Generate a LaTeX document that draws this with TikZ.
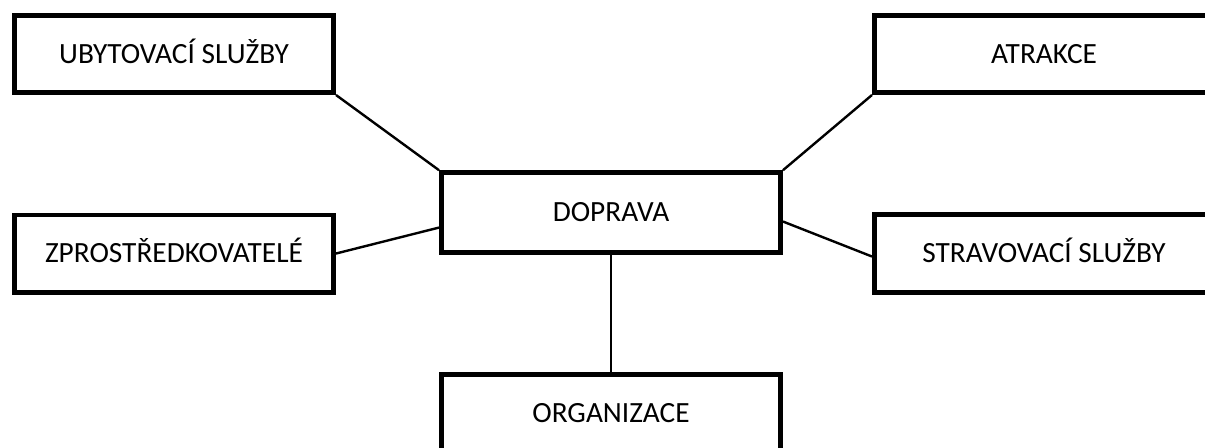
\documentclass[tikz,border=0pt]{standalone}
\usepackage{fontspec}
\setmainfont{Carlito}
\usetikzlibrary{positioning}

\begin{document}
\begin{tikzpicture}[node distance=327.75pt]
\tikzstyle{sideBox} = [rectangle, minimum width=239.5pt, minimum height=58pt, text centered, text height=14.2pt, text depth=0pt, draw=black, line width=3.5pt, font=\fontsize{22}{26}\selectfont]
\tikzstyle{wideBox} = [sideBox, minimum width=254.5pt, minimum height=60pt]
\tikzstyle{link} = [-, line width=1.8pt, black]

\useasboundingbox (-458.25pt,159.4pt) rectangle (445.5pt,-176.6pt);

\node (doprava) [wideBox] {DOPRAVA};
\node (ubytovani) [sideBox, left of=doprava, yshift=118.9pt] {UBYTOVACÍ SLUŽBY};
\node (zprostr) [sideBox, left of=doprava, yshift=-30.75pt] {ZPROSTŘEDKOVATELÉ};
\node (atrakce) [wideBox, minimum height=58pt, right of=doprava, xshift=-3pt, yshift=118.9pt] {ATRAKCE};
\node (stravovani) [wideBox, minimum height=58.5pt, right of=doprava, xshift=-3pt, yshift=-30.75pt] {STRAVOVACÍ SLUŽBY};
\node (organizace) [wideBox, minimum height=58pt, below of=doprava, node distance=150.4pt] {ORGANIZACE};

\draw[link] (ubytovani.south east) -- (doprava.north west);
\draw[link] (atrakce.south west) -- (doprava.north east);
\draw[link] (zprostr.east) -- (doprava.185);
\draw[link] (doprava.357) -- (stravovani.181);
\draw[link] (doprava.south) -- (organizace.north);

\end{tikzpicture}
\end{document}
